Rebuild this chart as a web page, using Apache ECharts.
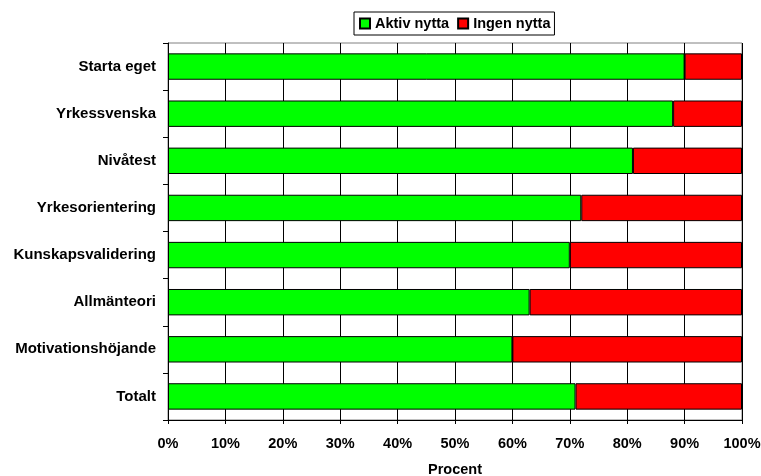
<!DOCTYPE html>
<html>
<head>
<meta charset="utf-8">
<script src="https://cdn.jsdelivr.net/npm/echarts@6/dist/echarts.min.js"></script>
<style>
html,body{margin:0;padding:0;background:#fff;}
#chart{width:761px;height:476px;}
</style>
</head>
<body>
<div id="chart"></div>
<script>
const categories = ["Starta eget","Yrkessvenska","Nivåtest","Yrkesorientering","Kunskapsvalidering","Allmänteori","Motivationshöjande","Totalt"];
const aktivNytta = [90, 88, 81, 72, 70, 63, 60, 71];
const ingenNytta = [10, 12, 19, 28, 30, 37, 40, 29];
const seriesNames = ["Aktiv nytta", "Ingen nytta"];
const axisName = "Procent";

const FONT = '"Liberation Sans", Arial, sans-serif';
const chart = echarts.init(document.getElementById('chart'), null, {renderer: 'canvas'});
chart.setOption({
  animation: false,
  backgroundColor: '#fff',
  textStyle: {fontFamily: FONT},
  legend: {
    left: 354, top: 12,
    padding: [4, 4, 4, 5],
    borderColor: '#000', borderWidth: 1,
    itemWidth: 10, itemHeight: 10, itemGap: 8,
    icon: 'rect',
    textStyle: {fontFamily: FONT, fontWeight: 'bold', fontSize: 14.5, color: '#000'},
    data: seriesNames
  },
  grid: {
    left: 168, right: 19, top: 43, bottom: 56,
    containLabel: false, outerBoundsMode: 'none',
    show: true, borderColor: '#808080', borderWidth: 1, backgroundColor: '#fff'
  },
  xAxis: {
    type: 'value', min: 0, max: 100, interval: 10,
    name: axisName, nameLocation: 'middle', nameGap: 42,
    nameTextStyle: {fontFamily: FONT, fontWeight: 'bold', fontSize: 14.5, color: '#000'},
    axisLine: {show: true, lineStyle: {color: '#000', width: 1}},
    axisTick: {show: true, length: 4, lineStyle: {color: '#000'}},
    axisLabel: {formatter: '{value}%', margin: 16, fontFamily: FONT, fontWeight: 'bold', fontSize: 14.5, color: '#000'},
    splitLine: {show: true, lineStyle: {color: '#000', width: 1}}
  },
  yAxis: {
    type: 'category', data: categories, inverse: true,
    axisLine: {show: true, lineStyle: {color: '#000', width: 1}},
    axisTick: {show: true, length: 5, alignWithLabel: false, lineStyle: {color: '#000'}},
    axisLabel: {margin: 12, fontFamily: FONT, fontWeight: 'bold', fontSize: 15, color: '#000'},
    splitLine: {show: false}
  },
  series: [
    {
      name: seriesNames[0], type: 'bar', stack: 'total', data: aktivNytta,
      barCategoryGap: '44%',
      itemStyle: {color: '#00FF00', borderColor: '#000', borderWidth: 1}
    },
    {
      name: seriesNames[1], type: 'bar', stack: 'total', data: ingenNytta,
      barCategoryGap: '44%',
      itemStyle: {color: '#FF0000', borderColor: '#000', borderWidth: 1}
    }
  ]
});
</script>
</body>
</html>
